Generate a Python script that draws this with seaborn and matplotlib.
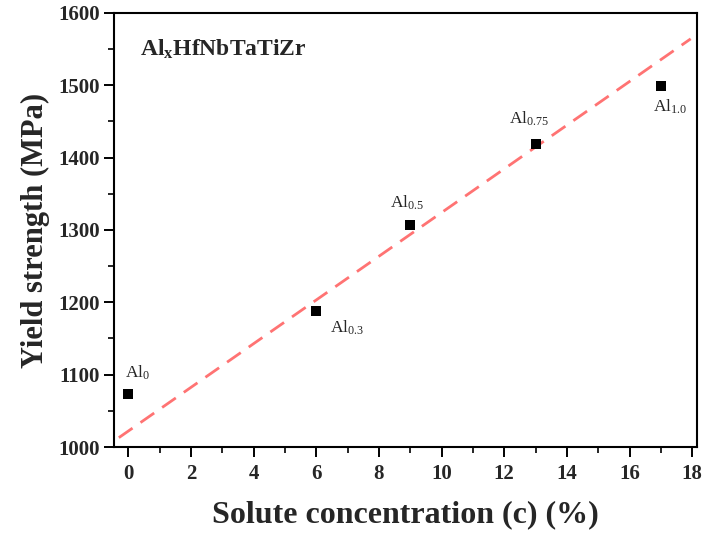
import numpy as np
import pandas as pd
import matplotlib
matplotlib.use("Agg")
import matplotlib.pyplot as plt
import seaborn as sns
from matplotlib.ticker import MultipleLocator

# Yield strength of AlxHfNbTaTiZr alloys versus solute concentration
concentration = [0, 6, 9, 13, 17]
yield_strength = [1073, 1188, 1307, 1419, 1499]
alloy_labels = ["0", "0.3", "0.5", "0.75", "1.0"]

# Linear solid-solution strengthening trend
fit_slope = 30.2
fit_intercept = 1022
fit_range = [-0.3, 17.95]

x_ticks = [0, 2, 4, 6, 8, 10, 12, 14, 16, 18]
y_ticks = [1000, 1100, 1200, 1300, 1400, 1500, 1600]

sns.set_theme(style="ticks")
plt.rcParams["font.family"] = ["Liberation Serif", "DejaVu Serif"]
plt.rcParams["mathtext.fontset"] = "custom"
plt.rcParams["mathtext.rm"] = "Liberation Serif"
plt.rcParams["mathtext.bf"] = "Liberation Serif:bold"
plt.rcParams["mathtext.it"] = "Liberation Serif:italic"

points = pd.DataFrame({"c": concentration, "ys": yield_strength})
fit = pd.DataFrame({"c": fit_range,
                    "ys": [fit_intercept + fit_slope * v for v in fit_range]})

fig = plt.figure(figsize=(7.09, 5.36), dpi=100)
ax = fig.add_axes([0.161, 0.166, 0.822, 0.810])

sns.lineplot(data=fit, x="c", y="ys", ax=ax, color="#ff7373",
             linewidth=2.0, zorder=2)
ax.lines[-1].set_dashes([6, 3.5])
sns.scatterplot(data=points, x="c", y="ys", ax=ax, marker="s", s=55,
                color="black", edgecolor="black", linewidth=0, zorder=3)

# Point labels: Al with the alloy fraction written small
offsets = {"0": (-3, 21),
           "0.3": (14, -17),
           "0.5": (-20, 22),
           "0.75": (-27, 25),
           "1.0": (-8, -21)}
for xv, yv, lab in zip(concentration, yield_strength, alloy_labels):
    dx, dy = offsets[lab]
    ax.annotate(r"Al$_{%s}$" % lab, (xv, yv), xytext=(dx, dy),
                textcoords="offset pixels", ha="left", va="center",
                fontsize=12.5)

ax.text(0.045, 0.915, r"Al$_{\mathbf{x}}$HfNbTaTiZr", transform=ax.transAxes,
        fontsize=17, fontweight="bold", ha="left", va="center")

ax.set_xlim(-0.45, 18.15)
ax.set_ylim(1000, 1600)
ax.set_xticks(x_ticks)
ax.set_yticks(y_ticks)
ax.xaxis.set_minor_locator(MultipleLocator(1))
ax.yaxis.set_minor_locator(MultipleLocator(50))
ax.tick_params(which="major", direction="out", length=7, width=1.4,
               labelsize=15, top=False, right=False, color="black")
ax.tick_params(axis="x", which="major", pad=5)
ax.tick_params(which="minor", direction="out", length=4, width=1.2,
               top=False, right=False, color="black")
for lab in ax.get_xticklabels() + ax.get_yticklabels():
    lab.set_fontweight("bold")

for sp in ax.spines.values():
    sp.set_visible(True)
    sp.set_linewidth(1.5)
    sp.set_color("black")

ax.set_xlabel("Solute concentration (c) (%)", fontsize=23, fontweight="bold",
              labelpad=12)
ax.set_ylabel("Yield strength (MPa)", fontsize=22, fontweight="bold",
              labelpad=6)

fig.savefig("out.png", dpi=100)
